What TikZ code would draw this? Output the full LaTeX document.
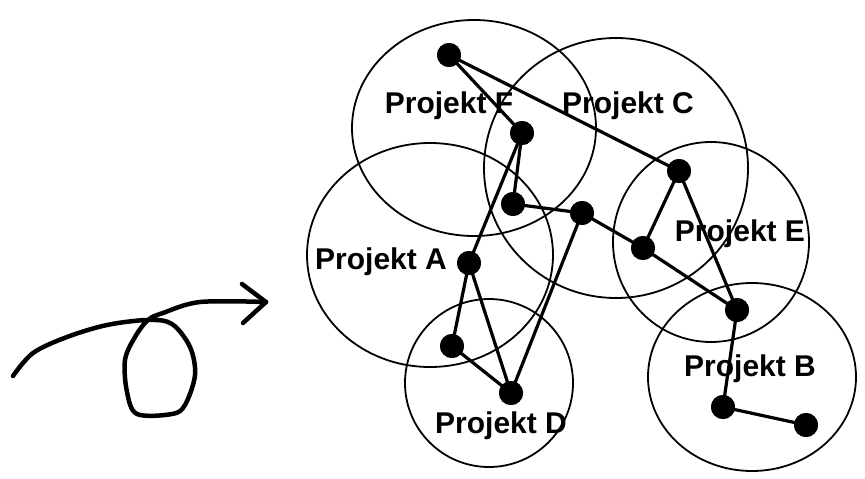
\documentclass[tikz,border=0pt]{standalone}
\usepackage{fontspec}
\setmainfont{Liberation Sans}
\usetikzlibrary{shapes.geometric}
\begin{document}
\begin{tikzpicture}[x=1pt,y=-1pt,
  ring/.style={line width=1.8pt},
  link/.style={line width=3.2pt},
  dot/.style={circle,fill=black,inner sep=0pt,minimum size=24pt},
  lbl/.style={font=\bfseries\fontsize{30}{32}\selectfont,inner sep=0pt},
  hand/.style={line width=4.5pt,line cap=round,line join=round}]
\useasboundingbox (0,0) rectangle (865,479);
\fill[white] (0,0) rectangle (865,479);
% project circles
\draw[ring] (474,128) ellipse [x radius=122,y radius=108];
\draw[ring] (616,168) ellipse [x radius=132,y radius=130];
\draw[ring] (430,255) ellipse [x radius=123,y radius=112];
\draw[ring] (489,383) ellipse [x radius=84,y radius=84];
\draw[ring] (711,242) ellipse [x radius=98,y radius=100];
\draw[ring] (752,377) ellipse [x radius=104,y radius=94];
% labels
\node[lbl] (lF) at (449,106) {Projekt F};
\node[lbl] (lC) at (628,106) {Projekt C};
\node[lbl] (lA) at (381,262) {Projekt A};
\node[lbl] (lD) at (501,426) {Projekt D};
\node[lbl] (lE) at (740,234) {Projekt E};
\node[lbl] (lB) at (750,369) {Projekt B};
% dots
\node[dot] (p1) at (449,55) {};
\node[dot] (p2) at (522,133) {};
\node[dot] (p3) at (513,204) {};
\node[dot] (p4) at (582,213) {};
\node[dot] (p5) at (679,171) {};
\node[dot] (p6) at (643,248) {};
\node[dot] (p7) at (737,310) {};
\node[dot] (p8) at (723,407) {};
\node[dot] (p9) at (806,425) {};
\node[dot] (pa) at (469,263) {};
\node[dot] (pb) at (452,346) {};
\node[dot] (pd) at (511,393) {};
% links
\draw[link] (p1.center) -- (p2.center);
\draw[link] (p1.center) -- (p5.center);
\draw[link] (p2.center) -- (p3.center);
\draw[link] (p2.center) -- (pa.center);
\draw[link] (p3.center) -- (p4.center);
\draw[link] (p4.center) -- (p6.center);
\draw[link] (p6.center) -- (p7.center);
\draw[link] (p5.center) -- (p6.center);
\draw[link] (p5.center) -- (p7.center);
\draw[link] (p7.center) -- (p8.center);
\draw[link] (p8.center) -- (p9.center);
\draw[link] (pa.center) -- (pb.center);
\draw[link] (pa.center) -- (pd.center);
\draw[link] (pb.center) -- (pd.center);
\draw[link] (pd.center) -- (p4.center);
% redraw dots on top
\foreach \p in {p1,p2,p3,p4,p5,p6,p7,p8,p9,pa,pb,pd} \fill (\p) circle (12pt);
% hand-drawn loop arrow
\coordinate (hs) at (13,376);
\coordinate (ht) at (266,302);
\draw[hand] plot[smooth,tension=0.55] coordinates {(13,376) (33,353) (67,337) (107,325) (148,320) (172,324) (190,347) (195,375) (185,405) (172,414) (137,414) (127,392) (125,360) (135,337) (148,320) (163,313) (200,302) (266,302)};
\draw[hand] (242,284) -- (ht) -- (243,323);
\end{tikzpicture}
\end{document}
